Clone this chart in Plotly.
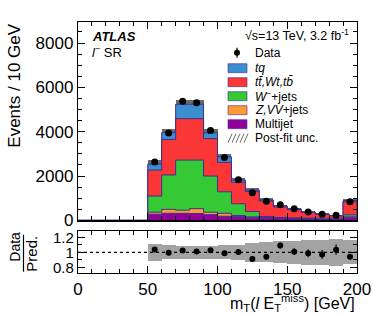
import numpy as np
import plotly.graph_objects as go

# ---------------- data (events per 10 GeV bin) ----------------
bin_edges = [50, 60, 70, 80, 90, 100, 110, 120, 130, 140, 150, 160, 170, 180, 190, 200]
multijet = [280, 320, 320, 310, 260, 190, 170, 120, 100, 80, 70, 60, 50, 50, 120]
zvv_jets = [90, 180, 140, 220, 110, 130, 50, 40, 30, 20, 20, 20, 20, 10, 40]
wminus_jets = [730, 1550, 2260, 2190, 1630, 970, 530, 240, 40, 30, 20, 20, 20, 20, 90]
ttbar_wt_tb = [1170, 1600, 1870, 1870, 1690, 1330, 970, 900, 700, 480, 380, 260, 180, 125, 590]
tq = [270, 310, 650, 650, 260, 250, 100, 70, 50, 40, 30, 20, 20, 15, 50]
data = [2640, 3940, 5380, 5310, 4060, 2840, 1830, 1250, 865, 710, 525, 375, 282, 228, 837]
postfit_unc = [170, 165, 210, 210, 170, 135, 90, 90, 75, 60, 50, 40, 35, 30, 90]
ratio_band_unc = [0.11, 0.093, 0.089, 0.089, 0.089, 0.093, 0.10, 0.124, 0.133, 0.147, 0.156, 0.164, 0.169, 0.178, 0.16]

x_ticks = [0, 50, 100, 150, 200]
y_ticks = [0, 2000, 4000, 6000, 8000]
ratio_ticks = [0.8, 1.0, 1.2]
ratio_ticktext = ["0.8", "1", "1.2"]

# ---------------- derived ----------------
edges = np.array(bin_edges, dtype=float)
centers = 0.5 * (edges[:-1] + edges[1:])
widths = np.diff(edges)
components = [
    ("Multijet", multijet, "#92009a"),
    ("Z,VV+jets", zvv_jets, "#ff9a33"),
    ("W-+jets", wminus_jets, "#35c935"),
    ("tt,Wt,tb", ttbar_wt_tb, "#fa3636"),
    ("tq", tq, "#3a8ecd"),
]
cum = np.cumsum(np.array([c[1] for c in components], dtype=float), axis=0)
total = cum[-1]
dat = np.array(data, dtype=float)
unc = np.array(postfit_unc, dtype=float)
rband = np.array(ratio_band_unc, dtype=float)

OUTLINE = "#3b2f96"
FONT = "Liberation Sans, Arial, Helvetica, sans-serif"

fig = go.Figure()

# stacked histograms as filled steps (draw top-most cumulative first)
step_x = [0.0] + list(edges[:-1]) + [edges[-1], edges[-1]]
for i in range(len(components) - 1, -1, -1):
    name, vals, col = components[i]
    yv = list(cum[i])
    step_y = [0.0] + yv + [yv[-1], 0.0]
    fig.add_trace(go.Scatter(
        x=step_x, y=step_y, mode="lines", line=dict(shape="hv", color=OUTLINE, width=1),
        fill="tozeroy", fillcolor=col, showlegend=False, hoverinfo="skip",
        xaxis="x", yaxis="y"))

# hatched post-fit uncertainty
fig.add_trace(go.Bar(
    x=centers, y=2 * unc, base=total - unc, width=widths,
    marker=dict(color="#6a6a6a", line=dict(width=0),
                pattern=dict(shape="/", size=5, solidity=0.25, fgcolor="#6a6a6a")),
    showlegend=False, hoverinfo="skip", xaxis="x", yaxis="y"))

# data
fig.add_trace(go.Scatter(
    x=centers, y=dat, mode="markers",
    marker=dict(color="black", size=7),
    error_y=dict(type="data", array=np.sqrt(dat), color="black", thickness=1.2, width=0),
    showlegend=False, xaxis="x", yaxis="y"))

# ratio band
fig.add_trace(go.Bar(
    x=centers, y=2 * rband, base=1 - rband, width=widths,
    marker=dict(color="#a3a3a3", line=dict(width=0)),
    showlegend=False, hoverinfo="skip", xaxis="x2", yaxis="y2"))

# ratio points
fig.add_trace(go.Scatter(
    x=centers, y=dat / total, mode="markers",
    marker=dict(color="black", size=6),
    error_y=dict(type="data", array=np.sqrt(dat) / total, color="black", thickness=1.2, width=0),
    showlegend=False, xaxis="x2", yaxis="y2"))

# ---------------- layout ----------------
W, H = 374, 316
L, R, T, B = 78, 357, 22.3, 273.3


def px(x):
    return (x - L) / (R - L)


def py(y):
    return (B - y) / (B - T)


main_bottom = py(220.7)
ratio_top = py(231.7)

axis_common = dict(showline=True, linecolor="black", linewidth=1.2, mirror="ticks",
                   ticks="inside", tickcolor="black", tickwidth=1, showgrid=False,
                   zeroline=False, automargin=False)

fig.update_layout(
    width=W, height=H,
    margin=dict(l=L, r=W - R, t=T, b=H - B, autoexpand=False),
    paper_bgcolor="white", plot_bgcolor="white",
    barmode="overlay", bargap=0,
    font=dict(family=FONT, color="black", size=17),
    showlegend=False,
    xaxis=dict(domain=[0, 1], anchor="y", range=[0, 200], tickvals=x_ticks, ticklen=7,
               minor=dict(ticks="inside", dtick=10, tick0=0, ticklen=4, tickcolor="black"),
               showticklabels=False, **axis_common),
    yaxis=dict(domain=[main_bottom, 1], anchor="x", range=[0, 8950], tickvals=y_ticks, ticklen=7,
               minor=dict(ticks="inside", dtick=500, tick0=0, ticklen=4, tickcolor="black"),
               tickfont=dict(size=17), **axis_common),
    xaxis2=dict(domain=[0, 1], anchor="y2", range=[0, 200], tickvals=x_ticks, ticklen=7,
                minor=dict(ticks="inside", dtick=10, tick0=0, ticklen=4, tickcolor="black"),
                tickfont=dict(size=17), **axis_common),
    yaxis2=dict(domain=[0, ratio_top], anchor="x2", range=[0.725, 1.28], tickvals=ratio_ticks,
                ticktext=ratio_ticktext, ticklen=7,
                minor=dict(ticks="inside", dtick=0.1, tick0=0, ticklen=4, tickcolor="black"),
                tickfont=dict(size=15), **axis_common),
)

# dotted line at 1
fig.add_shape(type="line", xref="x2", yref="y2", x0=0, x1=200, y0=1, y1=1,
              line=dict(color="black", width=1.2, dash="dot"))

ann = []
ann.append(dict(text="Events / 10 GeV", x=px(15), y=py(86), textangle=-90, font=dict(size=17)))
ann.append(dict(text="m<sub>T</sub>(<i>l</i> E<sub>T</sub><sup>miss</sup>) [GeV]", x=px(357), y=py(303),
                xanchor="right", font=dict(size=16)))
ann.append(dict(text="Data", x=px(15), y=py(247), textangle=-90, font=dict(size=14)))
ann.append(dict(text="Pred.", x=px(32), y=py(254), textangle=-90, font=dict(size=15)))
ann.append(dict(text="<b><i>ATLAS</i></b>", x=px(90), y=py(37), xanchor="left", font=dict(size=13)))
ann.append(dict(text="<i>l</i><sup>−</sup> SR", x=px(90), y=py(52), xanchor="left", font=dict(size=13)))
ann.append(dict(text="√s=13 TeV, 3.2 fb<sup>-1</sup>", x=px(351), y=py(35), xanchor="right",
                font=dict(size=12.5)))

legend_rows = [
    ("Data", 53),
    ("<i>tq</i>", 68.5),
    ("<i>tt̄,Wt,tb̄</i>", 82.5),
    ("<i>W</i><sup>−</sup>+jets", 96.5),
    ("<i>Z,VV</i>+jets", 110.5),
    ("Multijet", 124.5),
    ("Post-fit unc.", 138.5),
]
for txt, yc in legend_rows:
    ann.append(dict(text=txt, x=px(253), y=py(yc), xanchor="left", font=dict(size=12)))

for a in ann:
    a.update(xref="paper", yref="paper", showarrow=False, yanchor="middle")
    a.setdefault("xanchor", "center")
fig.update_layout(annotations=ann)

# fraction bar of the ratio title
fig.add_shape(type="line", xref="paper", yref="paper", x0=px(23.5), x1=px(23.5), y0=py(272), y1=py(235),
              line=dict(color="black", width=1.2))

# legend swatches
box_colors = [components[4][2], components[3][2], components[2][2], components[1][2], components[0][2]]
for col, (_, yc) in zip(box_colors, legend_rows[1:6]):
    fig.add_shape(type="rect", xref="paper", yref="paper",
                  x0=px(228), x1=px(247), y0=py(yc + 4.5), y1=py(yc - 4.5),
                  fillcolor=col, line=dict(color=OUTLINE, width=0.6))
# data legend marker
fig.add_shape(type="line", xref="paper", yref="paper", x0=px(237), x1=px(237), y0=py(58), y1=py(48),
              line=dict(color="black", width=1.2))
fig.add_shape(type="circle", xref="paper", yref="paper", x0=px(234), x1=px(240), y0=py(56), y1=py(50),
              fillcolor="black", line=dict(color="black", width=0))
# hatch legend
for x0 in [228, 232, 236, 240, 244]:
    fig.add_shape(type="line", xref="paper", yref="paper",
                  x0=px(x0), x1=px(x0 + 4), y0=py(143), y1=py(134),
                  line=dict(color="#6a6a6a", width=1))

fig.write_html(
    "out.html",
    config={"displayModeBar": False, "staticPlot": True},
    post_script="document.documentElement.style.margin='0';document.body.style.margin='0';"
                "document.body.style.overflow='hidden';",
)
